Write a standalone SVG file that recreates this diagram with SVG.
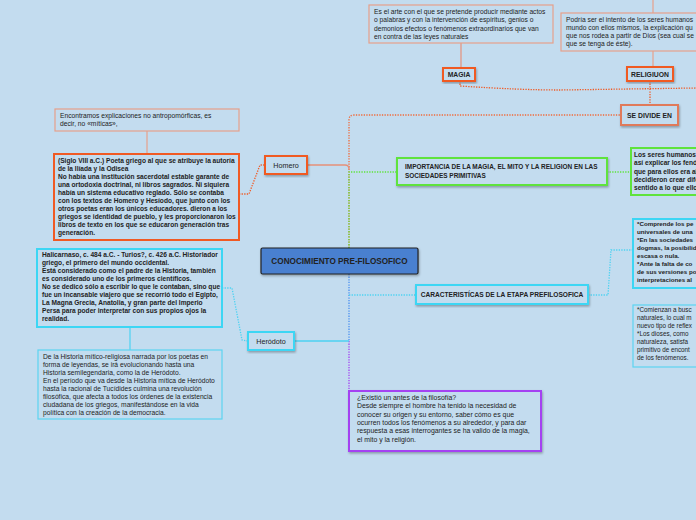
<svg xmlns="http://www.w3.org/2000/svg" width="696" height="520" viewBox="0 0 696 520">
<defs>
<filter id="sh" x="-10%" y="-10%" width="120%" height="130%">
<feDropShadow dx="0.8" dy="1.5" stdDeviation="0.8" flood-color="#000" flood-opacity="0.3"/>
</filter>
</defs>
<style>
text{font-family:"Liberation Sans",Arial,sans-serif;fill:#222;}
.t{font-size:6.7px;}
.b{font-weight:bold;font-size:6.6px;}
.lbl{font-size:6.8px;font-weight:bold;text-anchor:middle;}
.box{fill:#c3dcef;}
.or{stroke:#f05a24;stroke-width:2;}
.sa{stroke:#e6a08a;stroke-width:1.2;}
.gr{stroke:#5fe33c;stroke-width:2;}
.cy{stroke:#3cd6f4;stroke-width:2;}
.cyl{stroke:#5cd4f0;stroke-width:1.2;}
.pu{stroke:#a443f2;stroke-width:2;}
.c{fill:none;stroke-width:1.3;}
.dot{stroke-dasharray:1.3 1.3;}
</style>
<rect width="696" height="520" fill="#c3dcef"/>

<g id="connectors">
<line x1="653" y1="0" x2="653" y2="67" stroke="#e6a08a" stroke-width="1.2"/>
<line x1="461" y1="43" x2="461" y2="68" stroke="#e6907a" stroke-width="1.2"/>
<path class="c dot" d="M460,81 L460,86 Q520,90 560,90 L696,88" stroke="#f05a24"/>
<path class="c dot" d="M650,81 L650,105" stroke="#f05a24"/>
<path class="c dot" d="M349,248 L349,120 Q349,115 354,115 L620,115" stroke="#f06a3a"/>
<path class="c" d="M307,165 L345,165 Q349,165 349,169" stroke="#e6907a"/>
<path class="c dot" d="M349,248 L349,172 L397,172" stroke="#5fe33c"/>
<path class="c dot" d="M607,172 L631,172" stroke="#5fe33c"/>
<path class="c dot" d="M239,194 L249,194 L260,165 L265,165" stroke="#f05a24"/>
<line x1="147" y1="131" x2="147" y2="154" stroke="#e6a08a" stroke-width="1.2"/>
<path class="c dot" d="M349,274 L349,341" stroke="#4a90f0"/>
<path class="c dot" d="M349,341 L349,391" stroke="#a443f2"/>
<path class="c" d="M294,341 L349,341" stroke="#4cd2f2"/>
<path class="c dot" d="M349,295 L416,295" stroke="#4cd2f2"/>
<path class="c dot" d="M588,295 L608,295 L611,250 L633,250" stroke="#4cd2f2"/>
<path class="c dot" d="M222,288 L232,288 L242,340 L248,341" stroke="#4cd2f2"/>
<line x1="130" y1="327" x2="130" y2="350" stroke="#4cd2f2" stroke-width="1.2"/>
</g>

<g id="magia-desc">
<rect class="box sa" x="369" y="5" width="184" height="38"/>
<text class="t"><tspan x="374" y="14">Es el arte con el que se pretende producir mediante actos</tspan><tspan x="374" y="22.3">o palabras y con la intervención de espíritus, genios o</tspan><tspan x="374" y="30.6">demonios efectos o fenómenos extraordinarios que van</tspan><tspan x="374" y="39">en contra de las leyes naturales</tspan></text>
</g>

<g id="magia">
<rect class="box or" x="443" y="68" width="32" height="13" filter="url(#sh)"/>
<text class="lbl" x="459" y="77">MAGIA</text>
</g>

<g id="religion-desc">
<rect class="box sa" x="561" y="13" width="140" height="38"/>
<text class="t"><tspan x="566" y="21.5">Podría ser el intento de los seres humanos</tspan><tspan x="566" y="29.8">mundo con ellos mismos, la explicación qu</tspan><tspan x="566" y="38">que nos rodea a partir de Dios (sea cual se</tspan><tspan x="566" y="46.3">que se tenga de éste).</tspan></text>
</g>

<g id="religion">
<rect class="box or" x="627" y="67" width="46" height="14" filter="url(#sh)"/>
<text class="lbl" x="650" y="76.5">RELIGIUON</text>
</g>

<g id="se-divide">
<rect class="box" x="621" y="105" width="57" height="20" stroke="#e07a5a" stroke-width="2" filter="url(#sh)"/>
<text class="lbl" x="649.5" y="117.5">SE DIVIDE EN</text>
</g>

<g id="encontramos">
<rect class="box sa" x="55" y="109" width="184" height="22"/>
<text class="t" fill="#333"><tspan x="60" y="117.5">Encontramos explicaciones no antropomórficas, es</tspan><tspan x="60" y="125.8">decir, no «míticas»,</tspan></text>
</g>

<g id="homero-desc">
<rect class="box or" x="54" y="154" width="185" height="86"/>
<text class="t b"><tspan x="58" y="163">(Siglo VIII a.C.) Poeta griego al que se atribuye la autoría</tspan><tspan x="58" y="171">de la Ilíada y la Odisea</tspan><tspan x="58" y="179">No había una institución sacerdotal estable garante de</tspan><tspan x="58" y="187">una ortodoxia doctrinal, ni libros sagrados. Ni siquiera</tspan><tspan x="58" y="195">había un sistema educativo reglado. Sólo se contaba</tspan><tspan x="58" y="203">con los textos de Homero y Hesíodo, que junto con los</tspan><tspan x="58" y="211">otros poetas eran los únicos educadores. dieron a los</tspan><tspan x="58" y="219">griegos se identidad de pueblo, y les proporcionaron los</tspan><tspan x="58" y="227">libros de texto en los que se educaron generación tras</tspan><tspan x="58" y="235">generación.</tspan></text>
</g>

<g id="homero">
<rect class="box or" x="265" y="156" width="42" height="18" filter="url(#sh)"/>
<text class="lbl" x="286" y="167.5" style="font-weight:normal;font-size:7.2px">Homero</text>
</g>

<g id="importancia">
<rect class="box gr" x="397" y="158" width="210" height="27" filter="url(#sh)"/>
<text class="t b" style="font-size:6.45px"><tspan x="405" y="169">IMPORTANCIA DE LA MAGIA, EL MITO Y LA RELIGION EN LAS</tspan><tspan x="405" y="177.5">SOCIEDADES PRIMITIVAS</tspan></text>
</g>

<g id="seres-humanos">
<rect class="box gr" x="631" y="148" width="70" height="47"/>
<text class="t b"><tspan x="634" y="157">Los seres humanos</tspan><tspan x="634" y="165.3">así explicar los fenó</tspan><tspan x="634" y="173.6">que para ellos era al</tspan><tspan x="634" y="182">decidieron crear dife</tspan><tspan x="634" y="190.3">sentido a lo que ello</tspan></text>
</g>

<g id="central">
<rect x="261" y="248" width="157" height="26" rx="1.5" fill="#4a80d0" stroke="#222" stroke-width="1.2" filter="url(#sh)"/>
<text class="lbl" x="339.5" y="264" style="font-size:8.2px">CONOCIMIENTO PRE-FILOSOFICO</text>
</g>

<g id="caracteristicas">
<rect class="box cy" x="416" y="285" width="172" height="19" filter="url(#sh)"/>
<text class="t b" x="502" y="297" text-anchor="middle">CARACTERISTÍCAS DE LA ETAPA PREFILOSOFICA</text>
</g>

<g id="comprende">
<rect class="box cy" x="633" y="219" width="70" height="69"/>
<text class="t b" style="font-size:6.2px"><tspan x="637" y="226">*Comprende los pe</tspan><tspan x="637" y="234">universales de una</tspan><tspan x="637" y="242">*En las sociedades</tspan><tspan x="637" y="250">dogmas, la posibilid</tspan><tspan x="637" y="258">escasa o nula.</tspan><tspan x="637" y="266">*Ante la falta de co</tspan><tspan x="637" y="274">de sus versiones po</tspan><tspan x="637" y="282">interpretaciones al</tspan></text>
</g>

<g id="comienzan">
<rect class="box cyl" x="633" y="305" width="70" height="62"/>
<text class="t" style="font-size:6.3px"><tspan x="637" y="312">*Comienzan a busc</tspan><tspan x="637" y="320">naturales, lo cual m</tspan><tspan x="637" y="328">nuevo tipo de reflex</tspan><tspan x="637" y="336">*Los dioses, como</tspan><tspan x="637" y="344">naturaleza, satisfa</tspan><tspan x="637" y="352">primitivo de encont</tspan><tspan x="637" y="360">de los fenómenos.</tspan></text>
</g>

<g id="herodoto-desc">
<rect class="box cy" x="37" y="249" width="185" height="78"/>
<text class="t b"><tspan x="42" y="257">Halicarnaso, c. 484 a.C. - Turios?, c. 426 a.C. Historiador</tspan><tspan x="42" y="265">griego, el primero del mundo occidental.</tspan><tspan x="42" y="273">Está considerado como el padre de la Historia, también</tspan><tspan x="42" y="281">es considerado uno de los primeros científicos.</tspan><tspan x="42" y="289">No se dedicó sólo a escribir lo que le contaban, sino que</tspan><tspan x="42" y="297">fue un incansable viajero que se recorrió todo el Egipto,</tspan><tspan x="42" y="305">La Magna Grecia, Anatolia, y gran parte del Imperio</tspan><tspan x="42" y="313">Persa para poder interpretar con sus propios ojos la</tspan><tspan x="42" y="321">realidad.</tspan></text>
</g>

<g id="herodoto">
<rect class="box cy" x="248" y="332" width="46" height="18" filter="url(#sh)"/>
<text class="lbl" x="271" y="343.5" style="font-weight:normal;font-size:7.2px">Heródoto</text>
</g>

<g id="historia">
<rect class="box cyl" x="38" y="350" width="184" height="69"/>
<text class="t" fill="#333"><tspan x="43" y="359">De la Historia mítico-religiosa narrada por los poetas en</tspan><tspan x="43" y="367">forma de leyendas, se irá evolucionando hasta una</tspan><tspan x="43" y="375">Historia semilegendaria, como la de Heródoto.</tspan><tspan x="43" y="383">En el período que va desde la Historia mítica de Heródoto</tspan><tspan x="43" y="391">hasta la racional de Tucídides culmina una revolución</tspan><tspan x="43" y="399">filosófica, que afecta a todos los órdenes de la existencia</tspan><tspan x="43" y="407">ciudadana de los griegos, manifestándose en la vida</tspan><tspan x="43" y="415">política con la creación de la democracia.</tspan></text>
</g>

<g id="existio">
<rect class="box pu" x="349" y="391" width="192" height="60" filter="url(#sh)"/>
<text class="t" style="font-size:6.9px"><tspan x="357" y="400">¿Existió un antes de la filosofía?</tspan><tspan x="357" y="408.3">Desde siempre el hombre ha tenido la necesidad de</tspan><tspan x="357" y="416.6">conocer su origen y su entorno, saber cómo es que</tspan><tspan x="357" y="425">ocurren todos los fenómenos a su alrededor, y para dar</tspan><tspan x="357" y="433.3">respuesta a esas interrogantes se ha valido de la magia,</tspan><tspan x="357" y="441.6">el mito y la religión.</tspan></text>
</g>
</svg>
